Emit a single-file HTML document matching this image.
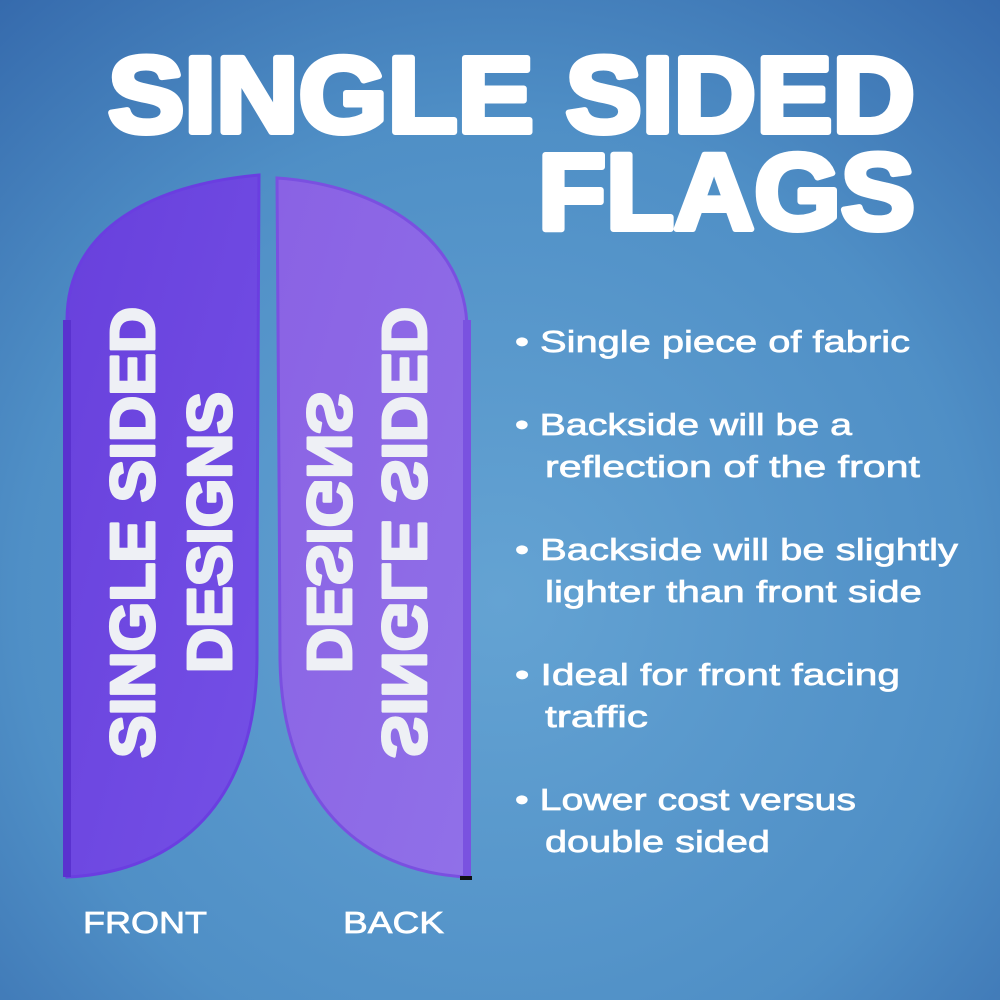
<!DOCTYPE html>
<html><head><meta charset="utf-8"><style>
html,body{margin:0;padding:0;width:1000px;height:1000px;overflow:hidden}
</style></head><body>
<svg width="1000" height="1000" viewBox="0 0 1000 1000" xmlns="http://www.w3.org/2000/svg">
<defs>
<radialGradient id="bg" cx="0.5" cy="0.6" r="0.8">
<stop offset="0" stop-color="#64a3d3"/>
<stop offset="0.6" stop-color="#4f8fc6"/>
<stop offset="1" stop-color="#3468ab"/>
</radialGradient>
<linearGradient id="fr" x1="0" y1="0" x2="1" y2="1">
<stop offset="0" stop-color="#6840dc"/>
<stop offset="1" stop-color="#7450e6"/>
</linearGradient>
<linearGradient id="bk" x1="0" y1="0" x2="1" y2="1">
<stop offset="0" stop-color="#8a62e4"/>
<stop offset="1" stop-color="#9070e8"/>
</linearGradient>
</defs>
<rect width="1000" height="1000" fill="url(#bg)"/>
<g font-family="Liberation Sans, sans-serif" font-weight="bold" fill="#fff" stroke="#fff" stroke-width="6" stroke-linejoin="round">
<text x="108" y="132" font-size="108" textLength="807" lengthAdjust="spacingAndGlyphs">SINGLE SIDED</text>
<text x="538" y="229" font-size="108" textLength="377" lengthAdjust="spacingAndGlyphs">FLAGS</text>
</g>
<path d="M67,877 L67,320 C67,230 150,185 259,175 C258,350 257,500 257,660 C256,800 180,872 67,877 Z" fill="url(#fr)" stroke="#6a3ee0" stroke-width="3"/>
<rect x="63" y="320" width="8" height="557" fill="#5a32cf"/>
<path d="M277,178 C380,185 467,240 467,330 L467,877 C360,872 282,800 280,660 C279,500 279,350 277,178 Z" fill="url(#bk)" stroke="#7a50e0" stroke-width="3"/>
<rect x="463" y="320" width="8" height="557" fill="#7a52e0"/>
<rect x="460" y="876" width="12" height="4" fill="#111"/>
<g font-family="Liberation Sans, sans-serif" font-weight="bold" fill="#eef0f5" stroke="#eef0f5" stroke-width="3" stroke-linejoin="round" font-size="62">
<text transform="translate(154,758) rotate(-90)" textLength="451" lengthAdjust="spacingAndGlyphs">SINGLE SIDED</text>
<text transform="translate(231,673) rotate(-90)" textLength="281" lengthAdjust="spacingAndGlyphs">DESIGNS</text>
<text transform="translate(383,758) scale(-1,1) rotate(-90)" textLength="451" lengthAdjust="spacingAndGlyphs">SINGLE SIDED</text>
<text transform="translate(308,673) scale(-1,1) rotate(-90)" textLength="281" lengthAdjust="spacingAndGlyphs">DESIGNS</text>
</g>
<g font-family="Liberation Sans, sans-serif" fill="#fff" stroke="#fff" stroke-width="0.7" font-size="31">
<text x="515" y="352" textLength="395" lengthAdjust="spacingAndGlyphs">• Single piece of fabric</text>
<text x="515" y="435" textLength="337" lengthAdjust="spacingAndGlyphs">• Backside will be a</text>
<text x="545" y="477" textLength="375" lengthAdjust="spacingAndGlyphs">reflection of the front</text>
<text x="515" y="560" textLength="443" lengthAdjust="spacingAndGlyphs">• Backside will be slightly</text>
<text x="545" y="602" textLength="377" lengthAdjust="spacingAndGlyphs">lighter than front side</text>
<text x="515" y="685" textLength="385" lengthAdjust="spacingAndGlyphs">• Ideal for front facing</text>
<text x="545" y="727" textLength="103" lengthAdjust="spacingAndGlyphs">traffic</text>
<text x="515" y="810" textLength="341" lengthAdjust="spacingAndGlyphs">• Lower cost versus</text>
<text x="545" y="852" textLength="225" lengthAdjust="spacingAndGlyphs">double sided</text>
<text x="83" y="933" textLength="124" lengthAdjust="spacingAndGlyphs">FRONT</text>
<text x="343" y="933" textLength="101" lengthAdjust="spacingAndGlyphs">BACK</text>
</g>
</svg>
</body></html>
